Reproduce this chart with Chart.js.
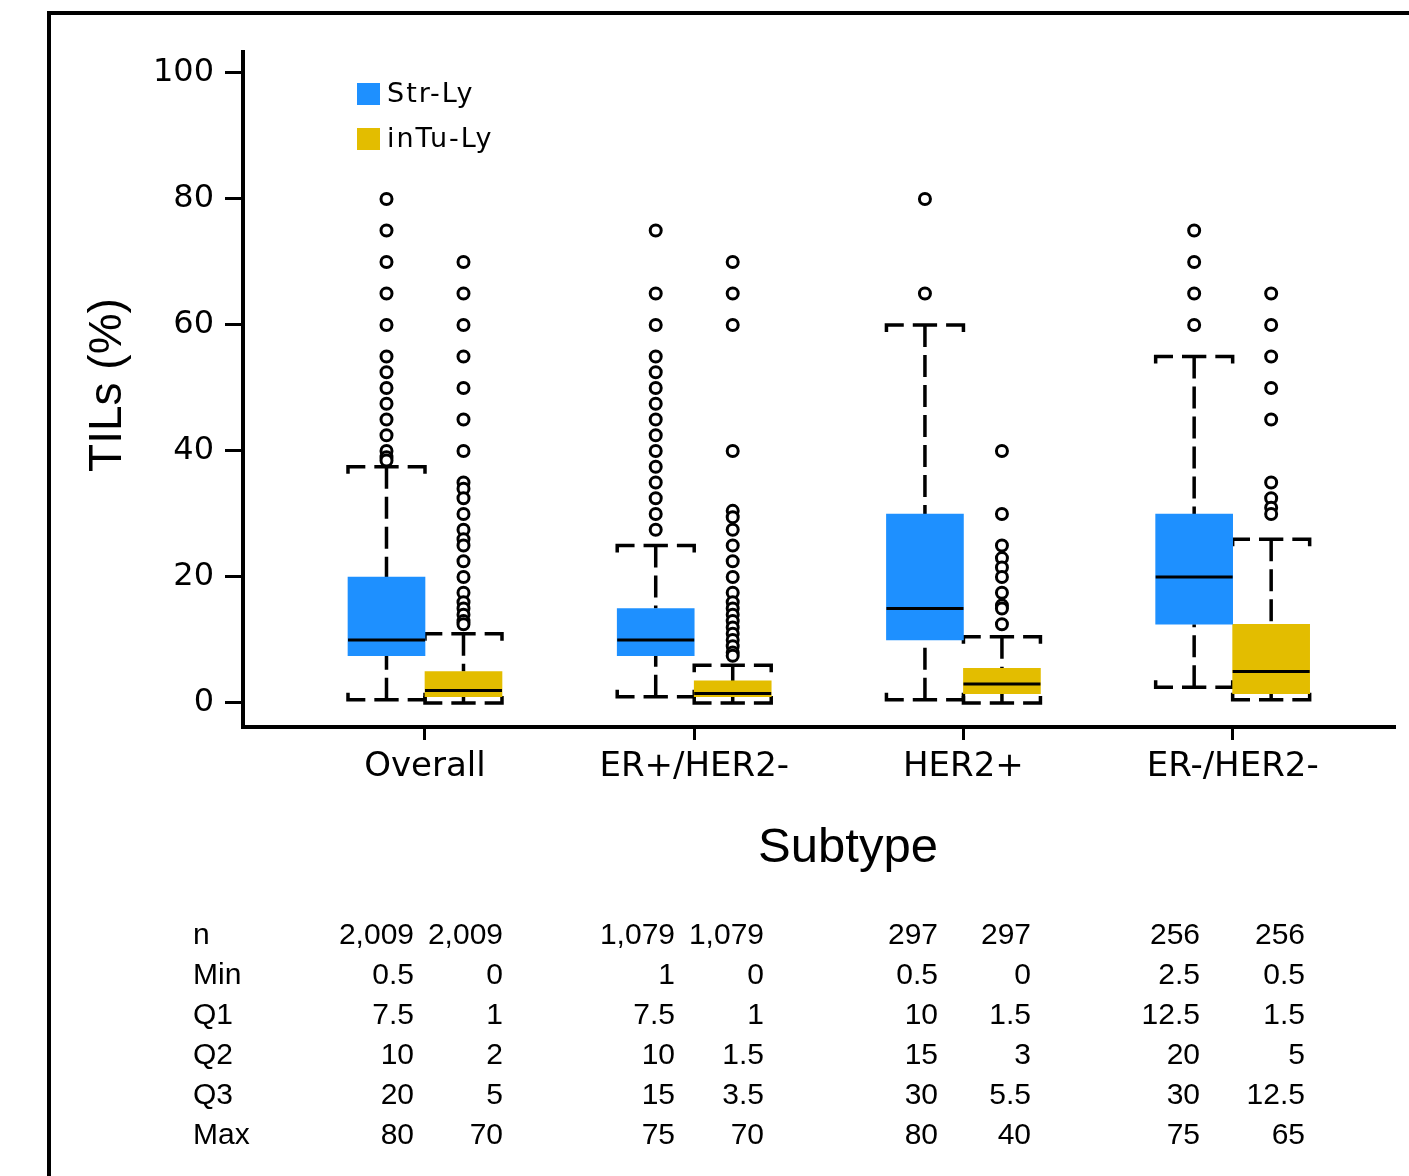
<!DOCTYPE html>
<html>
<head>
<meta charset="utf-8">
<script src="https://cdn.jsdelivr.net/npm/chart.js@4.4.1/dist/chart.umd.min.js"></script>
<style>
    html, body { margin: 0; padding: 0; background: #fff; }
    body { width: 1409px; height: 1176px; position: relative; overflow: hidden; }
    #marco { position: absolute; left: 47px; top: 11px; width: 1400px; height: 1200px; border: 4px solid #000; }
    #myChart { position: absolute; left: 0; top: 0; }
</style>
</head>
<body>
<div id="marco"></div>
<canvas id="myChart" width="1409" height="1176"></canvas>
<script>
const categories = ['Overall', 'ER+/HER2-', 'HER2+', 'ER-/HER2-'];
const yTicks = [0, 20, 40, 60, 80, 100];

// Str-Ly
const strN = [2009, 1079, 297, 256];
const strMin = [0.5, 1, 0.5, 2.5];
const strQ1 = [7.5, 7.5, 10, 12.5];
const strQ2 = [10, 10, 15, 20];
const strQ3 = [20, 15, 30, 30];
const strMax = [80, 75, 80, 75];
const strWhiskerHigh = [37.5, 25, 60, 55];
const strOutliers = [
    [80, 75, 70, 65, 60, 55, 52.5, 50, 47.5, 45, 42.5, 40, 39, 38.5],
    [75, 65, 60, 55, 52.5, 50, 47.5, 45, 42.5, 40, 37.5, 35, 32.5, 30, 27.5],
    [80, 65],
    [75, 70, 65, 60]
];

// inTu-Ly
const intuN = [2009, 1079, 297, 256];
const intuMin = [0, 0, 0, 0.5];
const intuQ1 = [1, 1, 1.5, 1.5];
const intuQ2 = [2, 1.5, 3, 5];
const intuQ3 = [5, 3.5, 5.5, 12.5];
const intuMax = [70, 70, 40, 65];
const intuWhiskerHigh = [11, 6, 10.5, 26];
const intuOutliers = [
    [70, 65, 60, 55, 50, 45, 40, 35, 34, 32.5, 30, 27.5, 26, 25, 22.5, 20, 17.5, 16, 15, 14, 13, 12.5],
    [70, 65, 60, 40, 30.5, 29.5, 27.5, 25, 22.5, 20, 17.5, 16, 15, 14, 13, 12, 11, 10, 9, 8, 7.5],
    [40, 30, 25, 23, 21.5, 20, 17.5, 15.5, 15, 12.5],
    [65, 60, 55, 50, 45, 35, 32.5, 31, 30]
];

const rowLabels = ['n', 'Min', 'Q1', 'Q2', 'Q3', 'Max'];

const series = [
    { label: 'Str-Ly', color: '#1e90ff', n: strN, min: strMin, q1: strQ1, q2: strQ2, q3: strQ3, max: strMax, high: strWhiskerHigh, out: strOutliers },
    { label: 'inTu-Ly', color: '#e3bd00', n: intuN, min: intuMin, q1: intuQ1, q2: intuQ2, q3: intuQ3, max: intuMax, high: intuWhiskerHigh, out: intuOutliers }
];

// layout
const seriesOffset = [-0.143, 0.143];
const boxHalf = 0.143;
const tableCols = [[414, 675, 938, 1200], [503, 764, 1031, 1305]];
const tableTop = 936;
const tableStep = 40;

const fmt = v => v >= 1000 ? v.toLocaleString('en-US') : String(v);

const cap = (ctx, xl, xr, yy, dir) => {
    const t = 7, gap = 9;
    const len = (xr - xl) + 2 * t;
    ctx.setLineDash([(len - 2 * gap) / 3, gap]);
    ctx.beginPath();
    ctx.moveTo(xl, yy + dir * t);
    ctx.lineTo(xl, yy);
    ctx.lineTo(xr, yy);
    ctx.lineTo(xr, yy + dir * t);
    ctx.stroke();
};

const cajasPlugin = {
    id: 'cajas',
    beforeDatasetsDraw(chart) {
        const { ctx, scales: { x, y } } = chart;
        ctx.save();
        ctx.strokeStyle = '#000';
        ctx.lineWidth = 3.5;
        series.forEach((s, si) => {
            categories.forEach((c, i) => {
                const pos = i + 1 + seriesOffset[si];
                const cx = x.getPixelForValue(pos);
                const xl = x.getPixelForValue(pos - boxHalf);
                const xr = x.getPixelForValue(pos + boxHalf);
                const yHigh = y.getPixelForValue(s.high[i]);
                const yLow = y.getPixelForValue(s.min[i]);
                ctx.setLineDash([22, 8]);
                ctx.beginPath();
                ctx.moveTo(cx, yHigh);
                ctx.lineTo(cx, y.getPixelForValue(s.q3[i]));
                ctx.stroke();
                ctx.beginPath();
                ctx.moveTo(cx, yLow);
                ctx.lineTo(cx, y.getPixelForValue(s.q1[i]));
                ctx.stroke();
                cap(ctx, xl, xr, yHigh, 1);
                cap(ctx, xl, xr, yLow, -1);
            });
        });
        ctx.restore();
    },
    afterDatasetsDraw(chart) {
        const { ctx, scales: { x, y } } = chart;
        ctx.save();
        ctx.strokeStyle = '#000';
        ctx.lineWidth = 3;
        series.forEach((s, si) => {
            categories.forEach((c, i) => {
                const pos = i + 1 + seriesOffset[si];
                const ym = y.getPixelForValue(s.q2[i]);
                ctx.beginPath();
                ctx.moveTo(x.getPixelForValue(pos - boxHalf), ym);
                ctx.lineTo(x.getPixelForValue(pos + boxHalf), ym);
                ctx.stroke();
            });
        });
        ctx.restore();
    },
    afterDraw(chart) {
        const { ctx } = chart;
        ctx.save();
        // leyenda
        ctx.font = '27px "DejaVu Sans"';
        ctx.textBaseline = 'middle';
        ctx.textAlign = 'left';
        if ('letterSpacing' in ctx) ctx.letterSpacing = '2px';
        series.forEach((s, si) => {
            const top = 83 + si * 45;
            ctx.fillStyle = s.color;
            ctx.fillRect(357, top, 23, 22);
            ctx.fillStyle = '#000';
            ctx.fillText(s.label, 387, top + 12);
        });
        if ('letterSpacing' in ctx) ctx.letterSpacing = '0px';

        // titulos
        ctx.fillStyle = '#000';
        ctx.textAlign = 'center';
        ctx.font = '49px "Liberation Sans"';
        ctx.fillText('Subtype', 848, 848);
        ctx.save();
        ctx.translate(108, 385);
        ctx.rotate(-Math.PI / 2);
        ctx.font = '46px "Liberation Sans"';
        ctx.fillText('TILs (%)', 0, 0);
        ctx.restore();

        // tabla
        ctx.font = '30px "Liberation Sans"';
        rowLabels.forEach((lab, r) => {
            const yy = tableTop + r * tableStep;
            ctx.textAlign = 'left';
            ctx.fillText(lab, 193, yy);
            ctx.textAlign = 'right';
            series.forEach((s, si) => {
                const vals = [s.n, s.min, s.q1, s.q2, s.q3, s.max][r];
                vals.forEach((v, i) => ctx.fillText(fmt(v), tableCols[si][i], yy));
            });
        });
        ctx.restore();
    }
};

const boxDatasets = series.map((s, si) => ({
    type: 'bar',
    label: s.label,
    data: categories.map((c, i) => ({ x: i + 1 + seriesOffset[si], y: [s.q1[i], s.q3[i]] })),
    backgroundColor: s.color,
    borderWidth: 0,
    grouped: false,
    barPercentage: 1,
    categoryPercentage: 1,
    order: 2
}));

const outlierDatasets = series.map((s, si) => ({
    type: 'scatter',
    label: s.label + ' outliers',
    data: s.out.flatMap((vals, i) => vals.map(v => ({ x: i + 1 + seriesOffset[si], y: v }))),
    pointStyle: 'circle',
    pointRadius: 5.5,
    borderWidth: 3,
    borderColor: '#000',
    backgroundColor: '#fff',
    order: 1
}));

const canvas = document.getElementById('myChart');
const myChart = new Chart(canvas.getContext('2d'), {
    type: 'bar',
    data: { datasets: [...boxDatasets, ...outlierDatasets] },
    options: {
        responsive: false,
        animation: false,
        events: [],
        layout: { padding: { top: 52, right: 14, left: 0, bottom: 0 } },
        plugins: { legend: { display: false }, tooltip: { enabled: false } },
        scales: {
            x: {
                type: 'linear',
                min: 0.324,
                max: 4.603,
                offset: false,
                afterBuildTicks: scale => { scale.ticks = categories.map((c, i) => ({ value: i + 1 })); },
                afterFit: scale => { scale.height = 449; },
                grid: { offset: false, drawOnChartArea: false, drawTicks: true, tickLength: 13, tickColor: '#000', tickWidth: 3 },
                border: { display: true, color: '#000', width: 4 },
                ticks: {
                    callback: v => categories[v - 1],
                    font: { family: 'DejaVu Sans', size: 34 },
                    color: '#000',
                    padding: 7,
                    maxRotation: 0,
                    autoSkip: false
                }
            },
            y: {
                min: -3.81,
                max: 103.33,
                afterBuildTicks: scale => { scale.ticks = yTicks.map(v => ({ value: v })); },
                afterFit: scale => { scale.width = 243; },
                grid: { drawOnChartArea: false, drawTicks: true, tickLength: 18, tickColor: '#000', tickWidth: 3 },
                border: { display: true, color: '#000', width: 4 },
                ticks: {
                    font: { family: 'DejaVu Sans', size: 32 },
                    color: '#000',
                    padding: 11
                }
            }
        }
    },
    plugins: [cajasPlugin]
});
</script>
</body>
</html>
